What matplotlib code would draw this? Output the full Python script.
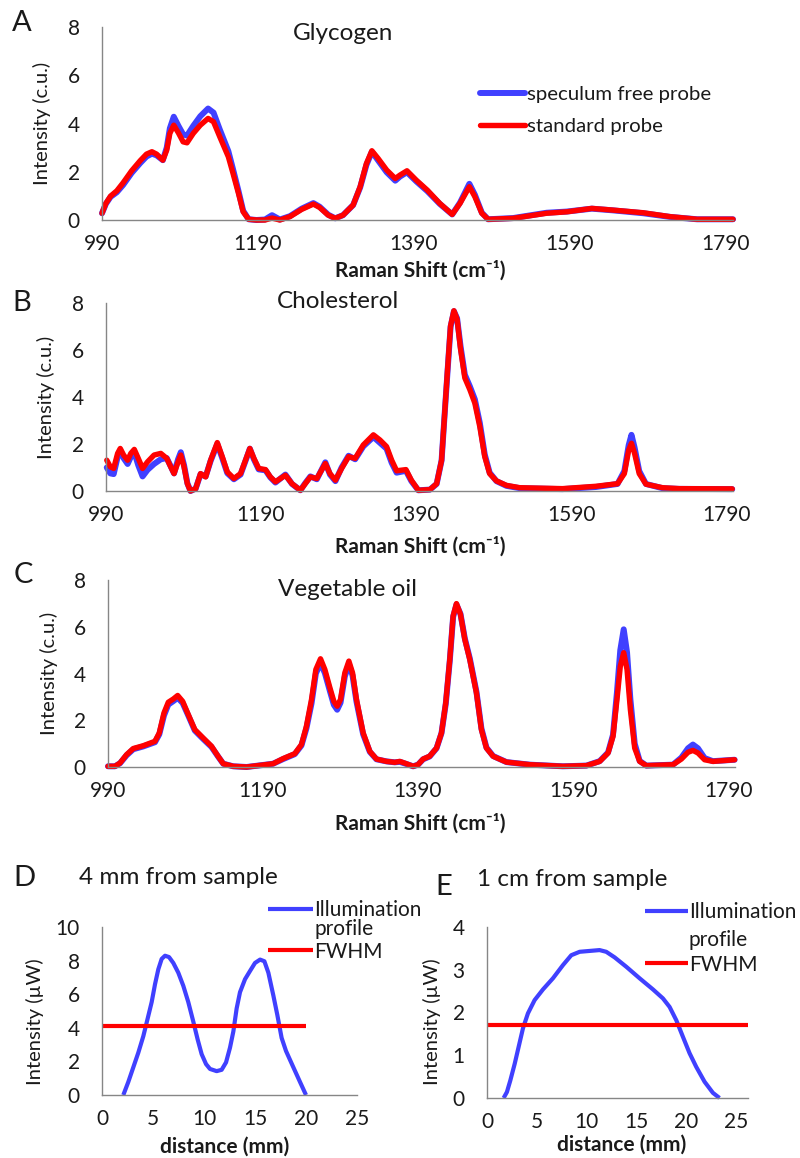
import matplotlib
matplotlib.use("Agg")
import matplotlib.pyplot as plt

plt.rcParams['font.family'] = ['Lato', 'DejaVu Sans']

W, H = 800, 1158

# ---------------- data ----------------
glyco_x = [990, 995, 1001, 1009, 1017, 1028, 1039, 1047, 1054, 1060, 1068, 1073, 1077, 1082,
           1088, 1094, 1099, 1107, 1116, 1126, 1133, 1141, 1152, 1158, 1165, 1171, 1178, 1188,
           1199, 1208, 1218, 1231, 1246, 1261, 1269, 1280, 1289, 1299, 1312, 1321, 1329, 1336,
           1344, 1355, 1366, 1372, 1381, 1393, 1407, 1423, 1439, 1449, 1461, 1468, 1477, 1485,
           1517, 1560, 1586, 1618, 1645, 1684, 1718, 1753, 1799]
glyco_standard = [0.28, 0.69, 0.99, 1.21, 1.54, 2.04, 2.46, 2.73, 2.83, 2.73, 2.48, 2.9, 3.59, 3.93,
                  3.61, 3.24, 3.2, 3.59, 3.93, 4.21, 4.07, 3.45, 2.62, 1.93, 1.1, 0.34, 0.03, 0.0,
                  0.0, 0.08, 0.0, 0.14, 0.44, 0.66, 0.52, 0.2, 0.07, 0.2, 0.62, 1.38, 2.34, 2.87,
                  2.55, 2.07, 1.72, 1.86, 2.04, 1.65, 1.24, 0.69, 0.23, 0.69, 1.38, 0.97, 0.28, 0.03,
                  0.07, 0.28, 0.34, 0.48, 0.41, 0.3, 0.14, 0.03, 0.03]
glyco_speculum = [0.28, 0.67, 0.96, 1.15, 1.45, 1.95, 2.36, 2.63, 2.75, 2.68, 2.48, 3.0, 3.8, 4.28,
                  3.9, 3.55, 3.5, 3.9, 4.3, 4.62, 4.45, 3.75, 2.85, 2.1, 1.2, 0.38, 0.03, 0.0,
                  0.02, 0.2, 0.02, 0.16, 0.47, 0.7, 0.55, 0.22, 0.07, 0.2, 0.62, 1.35, 2.28, 2.83,
                  2.47, 1.98, 1.63, 1.8, 1.98, 1.6, 1.2, 0.67, 0.23, 0.72, 1.5, 1.05, 0.3, 0.03,
                  0.08, 0.3, 0.35, 0.47, 0.4, 0.28, 0.13, 0.03, 0.03]

chol_x = [991, 995.6, 999.9, 1005, 1008.4, 1012.7, 1017.9, 1022, 1026.5, 1031.6, 1037.2, 1043.6,
          1052, 1060.7, 1068.4, 1073.5, 1077.8, 1083, 1086.5, 1090.7, 1095, 1099, 1105.7, 1112,
          1118.6, 1125, 1133.6, 1140, 1146.5, 1155, 1163.6, 1170, 1175.6, 1180.8, 1187, 1195.8,
          1202, 1208.6, 1221.5, 1230, 1240.8, 1247, 1253.7, 1262, 1273, 1279, 1286, 1294, 1303,
          1311.5, 1322, 1335, 1343.5, 1352, 1358.6, 1365, 1377, 1384, 1393, 1408, 1416.6, 1423,
          1427, 1430.7, 1434.6, 1438.9, 1443, 1447.5, 1453, 1459.5, 1465.9, 1472.3, 1478.7, 1485,
          1493.8, 1506.6, 1523.8, 1579, 1622, 1650, 1658.8, 1664.4, 1668, 1672, 1678, 1686.7,
          1708, 1729.5, 1798]
chol_standard = [1.31, 1.03, 0.96, 1.6, 1.81, 1.53, 1.31, 1.6, 1.77, 1.39, 0.96, 1.24,
                 1.53, 1.6, 1.39, 1.03, 0.74, 1.24, 1.53, 1.03, 0.31, 0.0, 0.1, 0.74,
                 0.6, 1.31, 2.06, 1.46, 0.81, 0.53, 0.74, 1.31, 1.81, 1.39, 0.96, 0.91,
                 0.6, 0.39, 0.67, 0.31, 0.03, 0.31, 0.6, 0.53, 1.17, 0.74, 0.46, 0.96, 1.46,
                 1.39, 1.96, 2.39, 2.17, 1.89, 1.31, 0.86, 0.91, 0.46, 0.03, 0.06, 0.31, 1.31,
                 3.31, 5.17, 7.03, 7.67, 7.31, 6.03, 4.81, 4.31, 3.74, 2.74, 1.46, 0.74,
                 0.43, 0.24, 0.14, 0.1, 0.2, 0.31, 0.74, 1.74, 2.03, 1.6, 0.74, 0.29,
                 0.14, 0.1, 0.09]
chol_speculum = [1.0, 0.75, 0.72, 1.45, 1.72, 1.4, 1.15, 1.45, 1.65, 1.1, 0.62, 0.9,
                 1.15, 1.35, 1.4, 1.05, 0.75, 1.35, 1.65, 1.1, 0.33, 0.0, 0.1, 0.72,
                 0.62, 1.28, 2.0, 1.4, 0.76, 0.5, 0.7, 1.28, 1.8, 1.35, 0.92, 0.88,
                 0.58, 0.36, 0.7, 0.3, 0.03, 0.33, 0.62, 0.5, 1.22, 0.7, 0.42, 1.0, 1.5,
                 1.35, 1.9, 2.3, 2.05, 1.8, 1.2, 0.78, 0.86, 0.42, 0.03, 0.06, 0.3, 1.3,
                 3.3, 5.1, 6.98, 7.65, 7.35, 6.15, 4.95, 4.45, 3.9, 2.9, 1.55, 0.78,
                 0.42, 0.22, 0.12, 0.08, 0.17, 0.3, 0.85, 1.95, 2.39, 1.85, 0.85, 0.3,
                 0.12, 0.09, 0.08]

oil_x = [990, 999, 1005.5, 1014, 1022.6, 1035.5, 1050.6, 1056.2, 1062.2, 1067.8, 1074.3, 1079.9,
         1086.3, 1093.6, 1102, 1112.8, 1123.5, 1132, 1138.7, 1151.6, 1168.8, 1186, 1203, 1216,
         1231, 1239.6, 1246, 1252.6, 1258.2, 1264.2, 1269.8, 1276.3, 1281.4, 1285.7, 1290,
         1295.6, 1300.8, 1305.5, 1310.6, 1319.2, 1327.8, 1336.4, 1349.3, 1360, 1366.5, 1375,
         1383.7, 1390, 1396.6, 1405, 1413.9, 1420.3, 1425.8, 1431, 1435.3, 1439.6, 1444.8,
         1450.4, 1456.8, 1465.4, 1471.8, 1478.3, 1486.9, 1504.1, 1534.2, 1577, 1607.3, 1624.4,
         1635.2, 1641.6, 1646.7, 1651, 1655.4, 1659.7, 1664, 1669.6, 1676, 1684.6, 1719, 1729.8,
         1738.4, 1744.7, 1751.2, 1759.8, 1770.5, 1798.5]
oil_standard = [0.03, 0.03, 0.17, 0.53, 0.79, 0.91, 1.1, 1.46, 2.31, 2.77, 2.91, 3.06,
                2.81, 2.24, 1.6, 1.24, 0.89, 0.46, 0.14, 0.03, 0.0, 0.07, 0.14, 0.36,
                0.57, 0.96, 1.74, 2.89, 4.17, 4.63, 4.17, 3.39, 2.81, 2.6, 2.89,
                4.03, 4.53, 4.03, 2.89, 1.46, 0.67, 0.34, 0.24, 0.2, 0.24, 0.14,
                0.03, 0.1, 0.34, 0.46, 0.81, 1.46, 2.74, 4.6, 6.46, 6.99, 6.53,
                5.46, 4.6, 3.17, 1.6, 0.81, 0.46, 0.21, 0.1, 0.03, 0.06, 0.24,
                0.6, 1.31, 2.89, 4.31, 4.89, 4.17, 2.46, 0.81, 0.24, 0.06, 0.1, 0.34,
                0.63, 0.71, 0.6, 0.31, 0.24, 0.31]
oil_speculum = [0.03, 0.03, 0.16, 0.5, 0.76, 0.88, 1.06, 1.4, 2.2, 2.67, 2.82, 2.96,
                2.74, 2.2, 1.56, 1.2, 0.86, 0.45, 0.14, 0.03, 0.0, 0.07, 0.14, 0.34,
                0.55, 0.92, 1.65, 2.72, 4.0, 4.45, 4.02, 3.25, 2.66, 2.45, 2.75,
                3.88, 4.4, 3.92, 2.8, 1.4, 0.65, 0.33, 0.24, 0.2, 0.22, 0.13,
                0.03, 0.1, 0.33, 0.45, 0.8, 1.45, 2.7, 4.55, 6.42, 6.95, 6.55,
                5.5, 4.65, 3.22, 1.65, 0.83, 0.47, 0.21, 0.1, 0.03, 0.06, 0.25,
                0.62, 1.38, 3.2, 5.0, 5.89, 4.9, 2.9, 1.0, 0.26, 0.06, 0.1, 0.4,
                0.8, 0.96, 0.8, 0.38, 0.25, 0.31]

spec_ticks = [990, 1190, 1390, 1590, 1790]
spec_yticks = [0, 2, 4, 6, 8]

d_x = [2.09, 2.58, 3.07, 3.56, 4.05, 4.48, 4.87, 5.2, 5.52, 5.85, 6.18, 6.57, 6.99, 7.48, 7.97,
       8.46, 8.95, 9.38, 9.77, 10.2, 10.59, 11.24, 11.73, 12.16, 12.55, 12.88, 13.2, 13.53, 14.02,
       14.51, 15.0, 15.5, 15.92, 16.31, 16.8, 17.19, 17.61, 18.04, 18.76, 19.41, 20.0]
d_profile = [0.0, 0.78, 1.65, 2.52, 3.5, 4.56, 5.53, 6.6, 7.48, 8.1, 8.29, 8.21, 7.86, 7.28, 6.5,
             5.53, 4.37, 3.3, 2.43, 1.84, 1.55, 1.42, 1.5, 1.94, 2.82, 3.79, 5.15, 6.12, 6.89,
             7.38, 7.86, 8.06, 7.96, 7.28, 5.92, 4.76, 3.4, 2.62, 1.65, 0.78, 0.0]
d_fwhm_x = [0, 20]
d_fwhm_y = [4.1, 4.1]

e_x = [1.67, 2.0, 2.34, 2.78, 3.21, 3.61, 4.11, 4.78, 5.62, 6.62, 7.63, 8.46, 9.3, 10.3, 11.3,
       11.97, 12.81, 13.98, 15.32, 16.66, 17.66, 18.33, 19.0, 19.67, 20.33, 21.0, 21.84, 22.68,
       23.34]
e_profile = [0.0, 0.14, 0.41, 0.8, 1.23, 1.63, 1.98, 2.29, 2.54, 2.8, 3.11, 3.34, 3.42, 3.44,
             3.46, 3.42, 3.29, 3.07, 2.8, 2.54, 2.33, 2.13, 1.82, 1.43, 1.05, 0.73, 0.38, 0.12,
             0.0]
e_fwhm_x = [0, 26.2]
e_fwhm_y = [1.7, 1.7]

BLUE = '#4040FF'
RED = '#FF0000'
SPINE = '#868686'
TXT = '#1a1a1a'

TICK_FS = 15
YLAB_FS = 14.5
XLAB_FS = 15
TITLE_FS = 17.5
LETTER_FS = 21


def rect(l, t, r, b):
    return [l / W, 1 - b / H, (r - l) / W, (b - t) / H]


def fx(p):
    return p / W


def fy(p):
    return 1 - p / H


fig = plt.figure(figsize=(W / 100, H / 100), dpi=100)


def style(ax, ypad=16, xpad=10):
    for s in ['top', 'right']:
        ax.spines[s].set_visible(False)
    for s in ['left', 'bottom']:
        ax.spines[s].set_color(SPINE)
        ax.spines[s].set_linewidth(1.0)
    ax.tick_params(length=0, labelsize=TICK_FS, colors=TXT)
    ax.tick_params(axis='y', pad=ypad)
    ax.tick_params(axis='x', pad=xpad)
    ax.patch.set_alpha(0)


spectra = [
    ("A", "Glycogen", rect(102, 27, 733, 220), glyco_x, glyco_speculum, glyco_standard,
     (22, 23), (343, 33), 270, -0.081),
    ("B", "Cholesterol", rect(106, 303, 733, 491), chol_x, chol_speculum, chol_standard,
     (22, 303), (338, 302), 546, -0.082),
    ("C", "Vegetable oil", rect(108, 580, 735, 767), oil_x, oil_speculum, oil_standard,
     (23, 575), (348, 590), 823, -0.079),
]

axes = []
for letter, title, r, xs, blue, red, lpos, tpos, xl_y, yl_x in spectra:
    ax = fig.add_axes(r)
    l1, = ax.plot(xs, blue, color=BLUE, lw=4.3, clip_on=False, solid_joinstyle='round',
                  solid_capstyle='round', label='speculum free probe')
    l2, = ax.plot(xs, red, color=RED, lw=3.9, clip_on=False, solid_joinstyle='round',
                  solid_capstyle='round', label='standard probe')
    ax.set_xlim(990, 1799)
    ax.set_ylim(0, 8)
    ax.set_xticks(spec_ticks)
    ax.set_yticks(spec_yticks)
    style(ax)
    ax.set_ylabel("Intensity (c.u.)", fontsize=YLAB_FS, color=TXT)
    ax.yaxis.set_label_coords(yl_x, 0.5)
    fig.text(fx(lpos[0]), fy(lpos[1]), letter, fontsize=LETTER_FS, ha='center', va='center',
             color=TXT)
    fig.text(fx(tpos[0]), fy(tpos[1]), title, fontsize=TITLE_FS, ha='center', va='center',
             color=TXT)
    fig.text(fx(420), fy(xl_y), "Raman Shift (cm\u207b\u00b9)", fontsize=XLAB_FS,
             fontweight='bold', ha='center', va='center', color=TXT)
    axes.append((ax, l1, l2))

# legend for A
axA, l1, l2 = axes[0]
fsz = 14.7
fpx = fsz * 100 / 72
axA.legend(handles=[l1, l2], loc='center left', bbox_to_anchor=(fx(480), fy(110.5)),
           bbox_transform=fig.transFigure, frameon=False, fontsize=fsz,
           handlelength=45 / fpx, handletextpad=0.08, labelspacing=0.75,
           borderpad=0, borderaxespad=0, labelcolor=TXT)

# ---------------- D ----------------
axD = fig.add_axes(rect(102, 927, 357, 1095))
pD, = axD.plot(d_x, d_profile, color=BLUE, lw=3.0, clip_on=False, solid_capstyle='butt',
               solid_joinstyle='round')
fD, = axD.plot(d_fwhm_x, d_fwhm_y, color=RED, lw=3.0, clip_on=False, solid_capstyle='butt')
axD.set_xlim(0, 25)
axD.set_ylim(0, 10)
axD.set_xticks([0, 5, 10, 15, 20, 25])
axD.set_yticks([0, 2, 4, 6, 8, 10])
style(axD, ypad=16, xpad=10)
axD.set_ylabel("Intensity (\u00b5W)", fontsize=YLAB_FS, color=TXT)
axD.yaxis.set_label_coords(-0.229, 0.434)
fig.text(fx(225), fy(1147), "distance (mm)", fontsize=XLAB_FS, fontweight='bold', ha='center',
         va='center', color=TXT)
fig.text(fx(24), fy(878), "D", fontsize=LETTER_FS, ha='center', va='center', color=TXT)
fig.text(fx(79), fy(878), "4 mm from sample", fontsize=TITLE_FS, ha='left', va='center',
         color=TXT)

# ---------------- E ----------------
axE = fig.add_axes(rect(487, 927, 748, 1098))
pE, = axE.plot(e_x, e_profile, color=BLUE, lw=3.0, clip_on=False, solid_capstyle='butt',
               solid_joinstyle='round')
fE, = axE.plot(e_fwhm_x, e_fwhm_y, color=RED, lw=3.0, clip_on=False, solid_capstyle='butt')
axE.set_xlim(0, 26.2)
axE.set_ylim(0, 4)
axE.set_xticks([0, 5, 10, 15, 20, 25])
axE.set_yticks([0, 1, 2, 3, 4])
style(axE, ypad=16, xpad=10)
axE.set_ylabel("Intensity (\u00b5W)", fontsize=YLAB_FS, color=TXT)
axE.yaxis.set_label_coords(-0.176, 0.444)
fig.text(fx(622), fy(1145), "distance (mm)", fontsize=XLAB_FS, fontweight='bold', ha='center',
         va='center', color=TXT)
fig.text(fx(444), fy(887), "E", fontsize=LETTER_FS, ha='center', va='center', color=TXT)
fig.text(fx(477), fy(880), "1 cm from sample", fontsize=TITLE_FS, ha='left', va='center',
         color=TXT)

# legends D / E
lf = 15
lpx = lf * 100 / 72
for ax, hp, hf, x0, x1, y_top, y_bot, y_prof in [
        (axD, pD, fD, 268, 313, 910, 952, 929),
        (axE, pE, fE, 645, 688, 912, 965, 940)]:
    gap = y_bot - y_top
    ax.legend(handles=[hp, hf], labels=["Illumination", "FWHM"], loc='center left',
              bbox_to_anchor=(fx(x0), fy((y_top + y_bot) / 2)), bbox_transform=fig.transFigure,
              frameon=False, fontsize=lf, handlelength=(x1 - x0) / lpx, handletextpad=0.06,
              labelspacing=(gap - lpx) / lpx, borderpad=0, borderaxespad=0, labelcolor=TXT)
    fig.text(fx(x1 + 1), fy(y_prof), "profile", fontsize=lf, ha='left', va='center', color=TXT)

fig.savefig("out.png", dpi=100, facecolor='white')
